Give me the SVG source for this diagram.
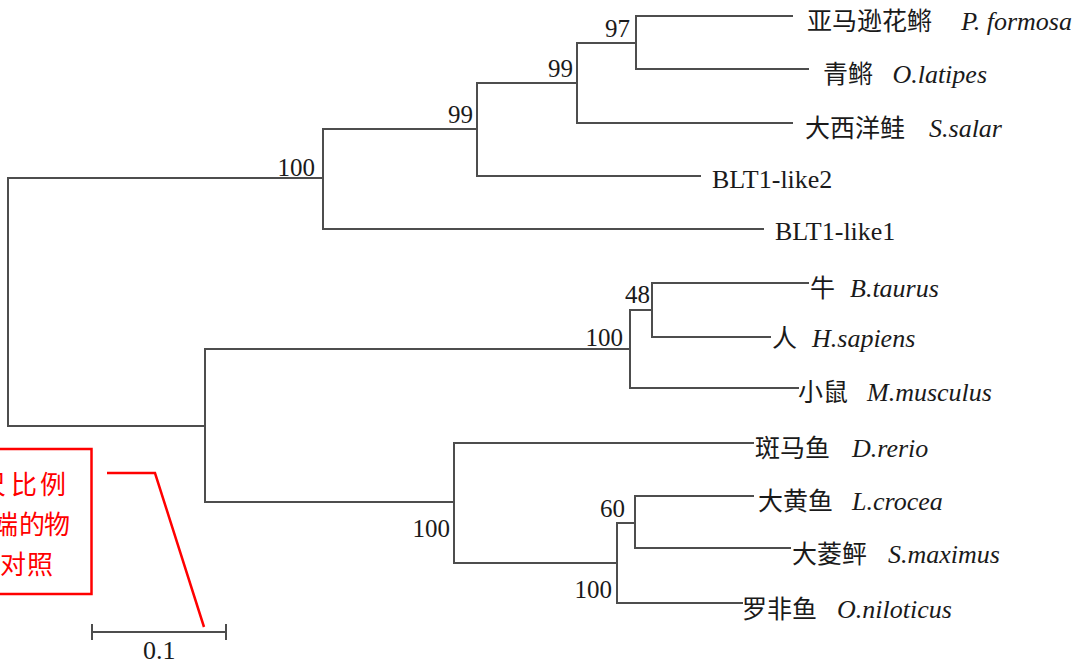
<svg xmlns="http://www.w3.org/2000/svg" width="1084" height="664" viewBox="0 0 1084 664">
<style>
  .br { fill: none; stroke: #4d4d4d; stroke-width: 2; stroke-linecap: square; }
  .cn { font-family: "Noto Sans CJK SC", "Noto Sans CJK TC", sans-serif; font-size: 25px; fill: #1a1a1a; }
  .sp { font-family: "Liberation Serif", serif; font-style: italic; font-size: 26px; fill: #1a1a1a; }
  .lb { font-family: "Liberation Serif", serif; font-size: 26px; fill: #1a1a1a; }
  .bs { font-family: "Liberation Serif", serif; font-size: 25px; fill: #1a1a1a; text-anchor: end; }
  .red { fill: none; stroke: #ff0000; stroke-width: 2.5; }
  .rt { font-family: "Noto Sans CJK SC", sans-serif; font-size: 26px; fill: #ff0000; }
</style>
<rect x="0" y="0" width="1084" height="664" fill="#ffffff"/>

<g id="connectors">
  <!-- root -->
  <path class="br" d="M323,178 H8 V426 H205"/>
  <!-- upper clade -->
  <path class="br" d="M323,129 V229 H763"/>
  <path class="br" d="M323,129 H477"/>
  <path class="br" d="M477,83 V176 H700"/>
  <path class="br" d="M477,83 H577"/>
  <path class="br" d="M577,43 V123 H792"/>
  <path class="br" d="M577,43 H636"/>
  <path class="br" d="M636,16 V69 H808"/>
  <path class="br" d="M636,16 H792"/>
  <!-- lower clade -->
  <path class="br" d="M205,349 V502"/>
  <path class="br" d="M205,349 H630"/>
  <path class="br" d="M630,310 V388 H798"/>
  <path class="br" d="M630,310 H652"/>
  <path class="br" d="M652,283 V337 H770"/>
  <path class="br" d="M652,283 H808"/>
  <path class="br" d="M205,502 H454"/>
  <path class="br" d="M454,443 V563 H617"/>
  <path class="br" d="M454,443 H753"/>
  <path class="br" d="M617,523 V603 H742"/>
  <path class="br" d="M617,523 H635"/>
  <path class="br" d="M635,496 V548 H790"/>
  <path class="br" d="M635,496 H753"/>
</g>

<g id="support-values">
  <text class="bs" x="315" y="176">100</text>
  <text class="bs" x="473" y="123">99</text>
  <text class="bs" x="573" y="77">99</text>
  <text class="bs" x="630" y="37">97</text>
  <text class="bs" x="623" y="346">100</text>
  <text class="bs" x="650" y="303">48</text>
  <text class="bs" x="450" y="537">100</text>
  <text class="bs" x="625" y="517">60</text>
  <text class="bs" x="612" y="598">100</text>
</g>

<g id="leaf-pformosa"><text class="cn" x="807" y="30">亚马逊花鳉</text><text class="sp" x="1072" y="30" text-anchor="end">P. formosa</text></g>
<g id="leaf-olatipes"><text class="cn" x="823" y="83">青鳉</text><text class="sp" x="987" y="83" text-anchor="end">O.latipes</text></g>
<g id="leaf-ssalar"><text class="cn" x="805" y="137">大西洋鲑</text><text class="sp" x="1002" y="137" text-anchor="end">S.salar</text></g>
<g id="leaf-blt1-like2"><text class="lb" x="712" y="188">BLT1-like2</text></g>
<g id="leaf-blt1-like1"><text class="lb" x="775" y="240">BLT1-like1</text></g>
<g id="leaf-btaurus"><text class="cn" x="810" y="297">牛</text><text class="sp" x="850" y="297">B.taurus</text></g>
<g id="leaf-hsapiens"><text class="cn" x="772" y="347">人</text><text class="sp" x="812" y="347">H.sapiens</text></g>
<g id="leaf-mmusculus"><text class="cn" x="798" y="401">小鼠</text><text class="sp" x="867" y="401">M.musculus</text></g>
<g id="leaf-drerio"><text class="cn" x="755" y="457">斑马鱼</text><text class="sp" x="852" y="457">D.rerio</text></g>
<g id="leaf-lcrocea"><text class="cn" x="758" y="510">大黄鱼</text><text class="sp" x="852" y="510">L.crocea</text></g>
<g id="leaf-smaximus"><text class="cn" x="792" y="563">大菱鲆</text><text class="sp" x="888" y="563">S.maximus</text></g>
<g id="leaf-oniloticus"><text class="cn" x="742" y="618">罗非鱼</text><text class="sp" x="837" y="618">O.niloticus</text></g>

<g id="scale-bar">
  <path class="br" d="M92,632 H226 M92,625 V639 M226,625 V639" stroke-linecap="butt"/>
  <text class="lb" x="143" y="659" font-size="25">0.1</text>
</g>

<g id="annotation">
  <rect class="red" x="-10" y="449" width="101.5" height="145"/>
  <text class="rt" x="-20 11 40" y="494">尺比例</text>
  <text class="rt" x="-8 19 44" y="534">端的物</text>
  <text class="rt" x="0 27" y="574">对照</text>
  <path class="red" d="M107,473 H155 L204,627"/>
</g>
</svg>
